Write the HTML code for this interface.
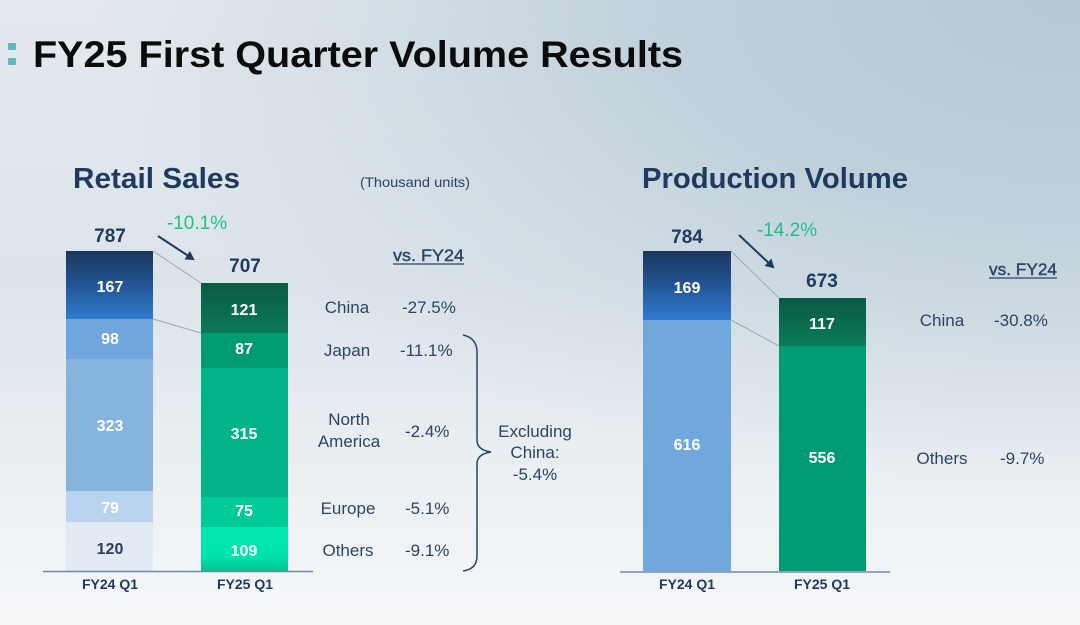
<!DOCTYPE html>
<html>
<head>
<meta charset="utf-8">
<style>
html,body{margin:0;padding:0;width:1080px;height:625px;overflow:hidden;}
svg{display:block;}
text{font-family:"Liberation Sans",sans-serif;}
</style>
</head>
<body>
<svg width="1080" height="625" viewBox="0 0 1080 625" xmlns="http://www.w3.org/2000/svg">
<defs>
  <linearGradient id="bgv" x1="0" y1="0" x2="0" y2="1">
    <stop offset="0" stop-color="#e3e9ee"/>
    <stop offset="0.45" stop-color="#dce4ea"/>
    <stop offset="1" stop-color="#f6f8fa"/>
  </linearGradient>
  <radialGradient id="bgr" cx="1080" cy="0" r="620" gradientUnits="userSpaceOnUse" gradientTransform="translate(1080 0) scale(1.6 0.8) translate(-1080 0)">
    <stop offset="0" stop-color="#b6c8d4" stop-opacity="1"/>
    <stop offset="0.45" stop-color="#bccdd8" stop-opacity="0.85"/>
    <stop offset="1" stop-color="#c8d6df" stop-opacity="0"/>
  </radialGradient>
  <linearGradient id="navy" x1="0" y1="0" x2="0" y2="1">
    <stop offset="0" stop-color="#1a365e"/>
    <stop offset="0.5" stop-color="#225594"/>
    <stop offset="1" stop-color="#2f7cd0"/>
  </linearGradient>
  <linearGradient id="dgreen" x1="0" y1="0" x2="0" y2="1">
    <stop offset="0" stop-color="#0a5a44"/>
    <stop offset="1" stop-color="#0b7a59"/>
  </linearGradient>
  <linearGradient id="lgreen" x1="0" y1="0" x2="0" y2="1">
    <stop offset="0" stop-color="#00e8b2"/>
    <stop offset="0.7" stop-color="#00e2ab"/>
    <stop offset="1" stop-color="#00c08e"/>
  </linearGradient>
  <marker id="ah" markerWidth="10" markerHeight="10" refX="7" refY="5" orient="auto" markerUnits="userSpaceOnUse">
    <path d="M0,0 L9,5 L0,10 z" fill="#1f3a60"/>
  </marker>
</defs>

<rect x="0" y="0" width="1080" height="625" fill="url(#bgv)"/>
<rect x="0" y="0" width="1080" height="625" fill="url(#bgr)"/>

<!-- Title -->
<rect x="8" y="43" width="8" height="7" rx="1" fill="#5fb8c0"/>
<rect x="8" y="58" width="8" height="7" rx="1" fill="#5fb8c0"/>
<text x="33" y="67" font-size="37" font-weight="bold" fill="#0b0b0b" textLength="650" lengthAdjust="spacingAndGlyphs">FY25 First Quarter Volume Results</text>

<!-- Retail Sales -->
<text x="73" y="188" font-size="29" font-weight="bold" fill="#1f3a60" textLength="167" lengthAdjust="spacingAndGlyphs">Retail Sales</text>
<text x="360" y="187" font-size="14" fill="#2c4466" textLength="110" lengthAdjust="spacingAndGlyphs">(Thousand units)</text>

<!-- connectors -->
<line x1="153" y1="251" x2="201" y2="283" stroke="#9ba8b4" stroke-width="1"/>
<line x1="153" y1="319" x2="201" y2="333" stroke="#9ba8b4" stroke-width="1"/>

<!-- FY24 retail bar -->
<rect x="66" y="251" width="87" height="68" fill="url(#navy)"/>
<rect x="66" y="319" width="87" height="40" fill="#6fa6dd"/>
<rect x="66" y="359" width="87" height="132" fill="#86b2de"/>
<rect x="66" y="491" width="87" height="31" fill="#b8d3ef"/>
<rect x="66" y="522" width="87" height="49" fill="#e2ebf4"/>
<g font-size="16" font-weight="bold" fill="#ffffff" text-anchor="middle">
  <text x="110" y="292">167</text>
  <text x="110" y="344">98</text>
  <text x="110" y="431">323</text>
  <text x="110" y="513">79</text>
  <text x="110" y="554" fill="#2a3d5c">120</text>
</g>

<!-- FY25 retail bar -->
<rect x="201" y="283" width="87" height="50" fill="url(#dgreen)"/>
<rect x="201" y="333" width="87" height="35" fill="#009b71"/>
<rect x="201" y="368" width="87" height="129" fill="#00b487"/>
<rect x="201" y="497" width="87" height="30" fill="#00ca96"/>
<rect x="201" y="527" width="87" height="44" fill="url(#lgreen)"/>
<g font-size="16" font-weight="bold" fill="#ffffff" text-anchor="middle">
  <text x="244" y="315">121</text>
  <text x="244" y="354">87</text>
  <text x="244" y="439">315</text>
  <text x="244" y="516">75</text>
  <text x="244" y="556">109</text>
</g>

<line x1="43" y1="571.5" x2="313" y2="571.5" stroke="#6f8aa6" stroke-width="1.5"/>
<g font-size="14" font-weight="bold" fill="#1f3a60" text-anchor="middle">
  <text x="110" y="589">FY24 Q1</text>
  <text x="245" y="589">FY25 Q1</text>
</g>

<g font-size="19" font-weight="bold" fill="#1f3a60" text-anchor="middle">
  <text x="110" y="242">787</text>
  <text x="245" y="272">707</text>
</g>
<text x="197" y="229" font-size="19" fill="#1fbf8a" text-anchor="middle">-10.1%</text>
<line x1="158" y1="236" x2="193" y2="259" stroke="#1f3a60" stroke-width="2" marker-end="url(#ah)"/>

<!-- vs FY24 left -->
<text x="393" y="261" font-size="17" fill="#2c4466" stroke="#2c4466" stroke-width="0.4" textLength="71" lengthAdjust="spacingAndGlyphs">vs. FY24</text>
<line x1="393" y1="264" x2="464" y2="264" stroke="#2c4466" stroke-width="1.2"/>

<g font-size="17" fill="#2c4466">
  <text x="347" y="313" text-anchor="middle">China</text>
  <text x="402" y="313">-27.5%</text>
  <text x="347" y="356" text-anchor="middle">Japan</text>
  <text x="400" y="356">-11.1%</text>
  <text x="349" y="425" text-anchor="middle">North</text>
  <text x="349" y="447" text-anchor="middle">America</text>
  <text x="405" y="437">-2.4%</text>
  <text x="348" y="514" text-anchor="middle">Europe</text>
  <text x="405" y="514">-5.1%</text>
  <text x="348" y="556" text-anchor="middle">Others</text>
  <text x="405" y="556">-9.1%</text>
  <text x="535" y="437" text-anchor="middle">Excluding</text>
  <text x="535" y="458" text-anchor="middle">China:</text>
  <text x="535" y="480" text-anchor="middle">-5.4%</text>
</g>
<path d="M463,335 Q477,338 477,352 L477,440 Q477,450 491,452 Q477,454 477,464 L477,556 Q477,569 463,571" fill="none" stroke="#2c4466" stroke-width="1.5"/>

<!-- Production Volume -->
<text x="642" y="188" font-size="29" font-weight="bold" fill="#1f3a60" textLength="266" lengthAdjust="spacingAndGlyphs">Production Volume</text>

<line x1="731" y1="251" x2="779" y2="298" stroke="#9ba8b4" stroke-width="1"/>
<line x1="731" y1="320" x2="779" y2="346" stroke="#9ba8b4" stroke-width="1"/>

<rect x="643" y="251" width="88" height="69" fill="url(#navy)"/>
<rect x="643" y="320" width="88" height="251" fill="#70a8de"/>
<rect x="779" y="298" width="87" height="48" fill="url(#dgreen)"/>
<rect x="779" y="346" width="87" height="225" fill="#009b72"/>
<g font-size="16" font-weight="bold" fill="#ffffff" text-anchor="middle">
  <text x="687" y="293">169</text>
  <text x="687" y="450">616</text>
  <text x="822" y="329">117</text>
  <text x="822" y="463">556</text>
</g>
<line x1="620" y1="572" x2="890" y2="572" stroke="#6f8aa6" stroke-width="1.5"/>
<g font-size="14" font-weight="bold" fill="#1f3a60" text-anchor="middle">
  <text x="687" y="589">FY24 Q1</text>
  <text x="822" y="589">FY25 Q1</text>
</g>
<g font-size="19" font-weight="bold" fill="#1f3a60" text-anchor="middle">
  <text x="687" y="243">784</text>
  <text x="822" y="287">673</text>
</g>
<text x="787" y="236" font-size="19" fill="#1fbf8a" text-anchor="middle">-14.2%</text>
<line x1="739" y1="235" x2="773" y2="267" stroke="#1f3a60" stroke-width="2" marker-end="url(#ah)"/>

<text x="989" y="275" font-size="17" fill="#2c4466" stroke="#2c4466" stroke-width="0.4" textLength="68" lengthAdjust="spacingAndGlyphs">vs. FY24</text>
<line x1="989" y1="278" x2="1057" y2="278" stroke="#2c4466" stroke-width="1.2"/>
<g font-size="17" fill="#2c4466">
  <text x="942" y="326" text-anchor="middle">China</text>
  <text x="994" y="326">-30.8%</text>
  <text x="942" y="464" text-anchor="middle">Others</text>
  <text x="1000" y="464">-9.7%</text>
</g>
</svg>
</body>
</html>
